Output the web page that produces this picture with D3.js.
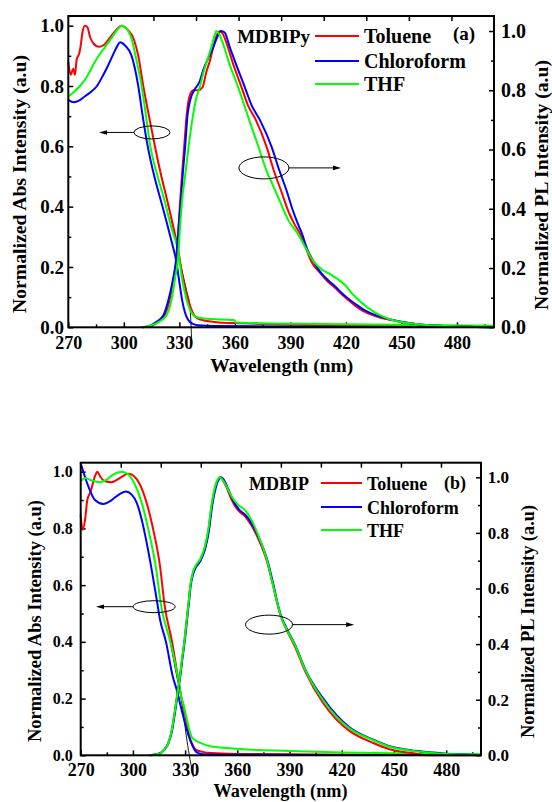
<!DOCTYPE html>
<html>
<head>
<meta charset="utf-8">
<script src="https://cdn.jsdelivr.net/npm/d3@7"></script>
<style>
  html, body { margin: 0; padding: 0; background: #fff; }
  svg { display: block; }
  text { font-family: "Liberation Serif", "Times New Roman", Times, Tinos, "Nimbus Roman", serif; font-weight: bold; fill: #000; }
</style>
</head>
<body>
<svg id="chart" width="552" height="802"></svg>
<script>
// ---------------- DATA ----------------
const seriesNames = ["Toluene", "Chloroform", "THF"];
const seriesColors = ["#ff0000", "#0000ff", "#00ff00"];
const wavelengthTicks = [270, 300, 330, 360, 390, 420, 450, 480];
const wavelengthMinorTicks = [285, 315, 345, 375, 405, 435, 465, 495];
const intensityTicks = [0, 0.2, 0.4, 0.6, 0.8, 1.0];
const intensityMinorTicks = [0.1, 0.3, 0.5, 0.7, 0.9];
const panelLabels = ["(a)", "(b)"];
const compoundNames = ["MDBIPy", "MDBIP"];

// Panel (a) – absorption (left axis), [wavelength nm, normalized value]
const absTolueneA = [[270,0.88],[271.3,0.837],[272.7,0.857],[273.6,0.837],[274.5,0.887],[276,0.91],[276.6,0.93],[277.7,0.98],[279,1.0],[280.3,0.995],[281.9,0.96],[283.7,0.94],[286.4,0.93],[289.2,0.936],[292.7,0.962],[296.3,0.988],[298.5,1.0],[301.8,0.988],[305.4,0.955],[307.8,0.9],[310.5,0.8],[313.6,0.7],[316.8,0.6],[320.3,0.5],[323.5,0.42],[326.5,0.34],[329.4,0.256],[332,0.16],[334.8,0.09],[336.8,0.055],[338.6,0.035],[342,0.025],[350,0.017],[360,0.014],[380,0.01],[420,0.006],[500,0.003]];
const absChloroformA = [[270,0.754],[273,0.746],[276,0.752],[279,0.766],[282.5,0.782],[285.5,0.8],[288.5,0.832],[291.5,0.868],[294.5,0.908],[296.5,0.933],[298,0.945],[300.5,0.935],[304.2,0.9],[307.8,0.8],[310.2,0.7],[312.9,0.6],[316.5,0.5],[320,0.42],[323.5,0.34],[326,0.28],[328.2,0.223],[330,0.15],[331.5,0.09],[333,0.05],[334.8,0.024],[337,0.012],[340,0.007],[350,0.004],[400,0.002],[500,0.001]];
const absTHFA = [[270,0.765],[273,0.78],[276.3,0.8],[280,0.83],[284.4,0.88],[287.5,0.91],[290.7,0.936],[294,0.965],[297,0.99],[298.8,1.0],[301.5,0.99],[304.5,0.95],[307,0.88],[309.6,0.8],[312,0.7],[314.3,0.6],[318.3,0.5],[322,0.42],[325.7,0.33],[329.2,0.256],[331.5,0.16],[334,0.09],[336,0.055],[339,0.035],[345,0.028],[359.5,0.024],[360.5,0.016],[380,0.013],[420,0.01],[500,0.005]];
// Panel (a) – photoluminescence (right axis)
const plTolueneA = [[310,0],[315,0.005],[319,0.02],[322,0.04],[325,0.1],[327,0.17],[328.5,0.23],[329.5,0.33],[330.5,0.43],[331.5,0.52],[332.5,0.6],[334,0.72],[335.5,0.78],[337.5,0.8],[340,0.8],[342.5,0.81],[344.5,0.86],[346.5,0.9],[348.5,0.95],[350.5,0.99],[352,1.0],[353.5,0.99],[356,0.95],[359,0.89],[363.6,0.81],[367,0.75],[371.3,0.7],[377.1,0.61],[381,0.53],[385,0.46],[389,0.39],[392,0.35],[395.1,0.317],[398.5,0.265],[401.3,0.222],[406.4,0.181],[410,0.155],[413.6,0.136],[418,0.11],[421.7,0.09],[425,0.073],[428.9,0.056],[435,0.04],[443,0.026],[450,0.018],[457.7,0.0115],[465,0.007],[475,0.004],[490,0.001],[500,0]];
const plChloroformA = [[310,0],[314,0.005],[318,0.02],[321.3,0.04],[324,0.09],[326.5,0.16],[328.2,0.226],[329.5,0.33],[330.8,0.43],[332,0.53],[333,0.6],[334.5,0.72],[336,0.77],[338,0.8],[341,0.83],[343,0.87],[345,0.9],[348,0.94],[350.5,0.98],[352.5,1.0],[354.5,0.995],[357,0.95],[360.5,0.89],[365.4,0.81],[369,0.75],[373.5,0.7],[379.8,0.61],[384,0.53],[388,0.46],[391,0.4],[394,0.35],[396.2,0.317],[399,0.265],[402.3,0.225],[406.9,0.181],[410.5,0.158],[414.5,0.136],[418,0.114],[422,0.093],[426,0.075],[430,0.058],[436,0.041],[443,0.028],[450,0.019],[457.7,0.0115],[465,0.007],[475,0.004],[490,0.001],[500,0]];
const plTHFA = [[310,0],[314,0.005],[318,0.015],[323,0.04],[326,0.1],[327.8,0.17],[329.2,0.226],[330.3,0.33],[331.5,0.43],[333.3,0.52],[335,0.61],[337,0.7],[339,0.77],[341,0.81],[343,0.86],[345,0.9],[347.5,0.95],[349,0.985],[349.9,1.0],[351.5,0.99],[354,0.95],[357,0.89],[361.8,0.81],[364.5,0.76],[367.7,0.7],[372.6,0.612],[377,0.53],[380.5,0.48],[384,0.43],[389,0.36],[393.9,0.317],[398.5,0.265],[402.8,0.22],[407,0.195],[411.8,0.178],[415,0.165],[418.8,0.147],[424.2,0.108],[431.4,0.068],[437,0.045],[443.3,0.028],[450,0.018],[457.7,0.0115],[465,0.007],[475,0.004],[490,0.001],[500,0]];
const traceA = [[318,0.56],[323,0.43],[327,0.32],[331,0.2],[334,0.12],[335.7,0.07],[336.6,-0.036]];

// Panel (b) – absorption (left axis)
const absTolueneB = [[270,0.848],[271.1,0.795],[272.5,0.83],[273.8,0.9],[275.7,0.93],[278.2,0.984],[279.6,1.0],[281.1,0.984],[284,0.966],[287.8,0.963],[292.6,0.978],[297.4,0.993],[300.3,0.986],[304.1,0.954],[307.9,0.89],[311.7,0.795],[315.6,0.666],[318.3,0.525],[322.5,0.4],[325.8,0.278],[327.8,0.207],[329.5,0.16],[331,0.11],[332.8,0.06],[334.5,0.035],[336,0.02],[340,0.012],[345,0.008],[360,0.005],[400,0.003],[500,0.001]];
const absChloroformB = [[270,1.03],[271.5,1.0],[274.4,0.948],[278.2,0.9],[283,0.886],[287.8,0.9],[292.6,0.922],[295.9,0.93],[299.3,0.919],[302.2,0.89],[305.1,0.83],[307.9,0.75],[310.8,0.654],[313.7,0.548],[315.6,0.478],[319,0.4],[322.9,0.278],[325.2,0.23],[328,0.16],[330.5,0.1],[332.5,0.06],[334.5,0.03],[336.7,0.01],[340,0.004],[360,0.002],[500,0.001]];
const absTHFB = [[270,0.966],[272.5,0.978],[276.3,0.969],[281.1,0.963],[284.9,0.972],[288.7,0.99],[293.6,1.0],[297.4,0.99],[301.2,0.954],[305.1,0.89],[308.9,0.795],[312.8,0.678],[316.5,0.518],[321.5,0.4],[325.8,0.278],[327.8,0.207],[329.8,0.16],[332,0.1],[334,0.062],[337.6,0.047],[342,0.036],[346,0.03],[352,0.027],[361.6,0.022],[375,0.018],[390,0.015],[420,0.01],[460,0.006],[500,0.004]];
// Panel (b) – photoluminescence (right axis)
const plTolueneB = [[309.8,0],[315.6,0.007],[318,0.02],[320.3,0.043],[322,0.08],[324.2,0.163],[325.5,0.22],[327,0.283],[328.3,0.35],[329.5,0.406],[330.9,0.487],[332,0.55],[333,0.61],[334.3,0.65],[335.9,0.675],[338.6,0.7],[341.4,0.745],[343.3,0.805],[345.3,0.9],[347.2,0.962],[349.1,0.995],[349.8,1.0],[351,0.995],[353.9,0.962],[356.8,0.918],[360.6,0.88],[364.4,0.86],[368.3,0.825],[372.1,0.778],[376.9,0.7],[380.7,0.606],[382.8,0.55],[385,0.5],[388,0.455],[392.8,0.395],[399.5,0.295],[409.1,0.19],[416.7,0.13],[424.4,0.088],[437.8,0.045],[447.4,0.022],[460,0.008],[471,0],[500,0]];
const plChloroformB = [[309.8,0],[315.6,0.007],[318,0.02],[320.3,0.043],[322.2,0.08],[324.4,0.163],[325.7,0.22],[327.2,0.283],[328.5,0.35],[329.7,0.406],[331.1,0.487],[332.2,0.55],[333.2,0.61],[334.5,0.65],[336.1,0.675],[338.8,0.7],[341.6,0.745],[343.6,0.805],[345.6,0.9],[347.6,0.962],[349.6,0.995],[350.6,1.0],[351.8,0.995],[354.5,0.962],[357.3,0.92],[361,0.884],[364.8,0.864],[368.6,0.83],[372.4,0.782],[377.2,0.703],[381,0.606],[383,0.55],[385.2,0.5],[388.2,0.458],[393,0.4],[399.7,0.3],[409.3,0.205],[416.9,0.145],[424.6,0.1],[437.8,0.057],[447.4,0.033],[462.7,0.016],[480,0.006],[500,0.001]];
const plTHFB = [[309.8,0],[315.6,0.007],[318,0.02],[320.3,0.043],[322,0.08],[324.2,0.163],[325.5,0.22],[327,0.283],[328.3,0.35],[329.5,0.406],[330.9,0.487],[332,0.55],[333,0.61],[334.3,0.655],[335.9,0.68],[338.6,0.705],[341.4,0.752],[343.3,0.812],[345.3,0.906],[347.2,0.966],[349.1,0.996],[349.7,1.0],[351,0.995],[353.9,0.966],[356.8,0.93],[360.6,0.9],[364.4,0.882],[368.3,0.845],[372.1,0.79],[376.9,0.705],[380.7,0.606],[382.8,0.552],[385,0.5],[388,0.457],[392.8,0.4],[399.5,0.3],[409.1,0.2],[416.7,0.14],[424.4,0.097],[437.8,0.055],[447.4,0.031],[462.7,0.015],[480,0.005],[500,0.001]];
const traceB = [[320.5,0.43],[324.5,0.3],[328.5,0.17],[331,0.054],[334.7,-0.076]];

// Annotation ellipses (centre in data units, radii in px) with arrows pointing to their axis
const annotationsA = [
  {cx: 315.2, cy: 0.646, axis: "left", rx: 18, ry: 6.5, tip: 286.6},
  {cx: 375.7, cy: 0.538, axis: "right", rx: 25, ry: 11, tip: 417.3}
];
const annotationsB = [
  {cx: 312.2, cy: 0.524, axis: "left", rx: 21, ry: 6, tip: 278.8},
  {cx: 378.2, cy: 0.47, axis: "right", rx: 23.5, ry: 9.5, tip: 427.1}
];

// ---------------- LAYOUT ----------------
const FONT = '"Liberation Serif", "Times New Roman", Times, Tinos, "Nimbus Roman", serif';
const panels = [
  {
    L: 68.3, R: 494, T: 16, B: 327.3, yLTop: 1.032, yRTop: 1.0507,
    abs: [absTolueneA, absChloroformA, absTHFA], pl: [plTolueneA, plChloroformA, plTHFA], trace: traceA,
    ann: annotationsA, label: panelLabels[0], name: compoundNames[0],
    fsYL: 19, fsYR: 20, fsX: 18, padYL: 4.3, padYR: 7, padX: 9,
    titleL: {x: 19, y: 184, len: 258, fs: 19}, titleR: {x: 542, y: 185, len: 250, fs: 18},
    titleX: {x: 281.7, y: 372, len: 143, fs: 19},
    legend: {x1: 315, x2: 359, tx: 364, ys: [36, 61, 84], fs: 20},
    nameText: {x: 310, y: 43.3, fs: 19}, labelText: {x: 453, y: 40, fs: 19}
  },
  {
    L: 80.7, R: 481, T: 462.7, B: 755.3, yLTop: 1.0317, yRTop: 1.0525,
    abs: [absTolueneB, absChloroformB, absTHFB], pl: [plTolueneB, plChloroformB, plTHFB], trace: traceB,
    ann: annotationsB, label: panelLabels[1], name: compoundNames[1],
    fsYL: 16, fsYR: 17, fsX: 18, padYL: 8, padYR: 6.7, padX: 8,
    titleL: {x: 35, y: 621, len: 242, fs: 18}, titleR: {x: 527.5, y: 621.5, len: 233, fs: 18},
    titleX: {x: 280.5, y: 797, len: 134, fs: 18},
    legend: {x1: 321, x2: 362, tx: 367, ys: [483, 507, 530], fs: 18},
    nameText: {x: 309, y: 490, fs: 18}, labelText: {x: 444, y: 489, fs: 18}
  }
];

const svg = d3.select("#chart");

function styleAxis(g, fs) {
  g.select(".domain").remove();
  g.selectAll(".tick line").attr("stroke", "#000").attr("stroke-width", 1.5);
  g.selectAll(".tick text").style("font-family", FONT)
    .style("font-weight", "bold").style("font-size", fs + "px").attr("fill", "#000");
}

panels.forEach(p => {
  const g = svg.append("g");
  const x = d3.scaleLinear().domain([270, 500]).range([p.L, p.R]);
  const yL = d3.scaleLinear().domain([0, p.yLTop]).range([p.B, p.T]);
  const yR = d3.scaleLinear().domain([0, p.yRTop]).range([p.B, p.T]);
  const topScale = d3.scaleLinear().domain([0, 10]).range([p.L, p.R]);
  const fmt = d3.format(".1f");

  g.append("g").attr("transform", `translate(0,${p.B})`)
    .call(d3.axisBottom(x).tickValues(wavelengthTicks).tickSizeInner(-5).tickSizeOuter(0).tickPadding(p.padX))
    .call(a => styleAxis(a, p.fsX));
  g.append("g").attr("transform", `translate(0,${p.B})`)
    .call(d3.axisBottom(x).tickValues(wavelengthMinorTicks).tickFormat("").tickSizeInner(-3).tickSizeOuter(0))
    .call(a => styleAxis(a, p.fsX));
  g.append("g").attr("transform", `translate(0,${p.T})`)
    .call(d3.axisTop(topScale).tickValues(d3.range(1, 10)).tickFormat("").tickSizeInner(-5).tickSizeOuter(0))
    .call(a => styleAxis(a, p.fsX));
  g.append("g").attr("transform", `translate(${p.L},0)`)
    .call(d3.axisLeft(yL).tickValues(intensityTicks).tickFormat(fmt).tickSizeInner(-5).tickSizeOuter(0).tickPadding(p.padYL))
    .call(a => styleAxis(a, p.fsYL));
  g.append("g").attr("transform", `translate(${p.L},0)`)
    .call(d3.axisLeft(yL).tickValues(intensityMinorTicks).tickFormat("").tickSizeInner(-3).tickSizeOuter(0))
    .call(a => styleAxis(a, p.fsYL));
  g.append("g").attr("transform", `translate(${p.R},0)`)
    .call(d3.axisRight(yR).tickValues(intensityTicks).tickFormat(fmt).tickSizeInner(-5).tickSizeOuter(0).tickPadding(p.padYR))
    .call(a => styleAxis(a, p.fsYR));
  g.append("g").attr("transform", `translate(${p.R},0)`)
    .call(d3.axisRight(yR).tickValues(intensityMinorTicks).tickFormat("").tickSizeInner(-3).tickSizeOuter(0))
    .call(a => styleAxis(a, p.fsYR));

  const lineL = d3.line().x(d => x(d[0])).y(d => yL(d[1])).curve(d3.curveMonotoneX);
  const lineR = d3.line().x(d => x(d[0])).y(d => yR(d[1])).curve(d3.curveMonotoneX);
  g.append("path").datum(p.trace).attr("d", lineL).attr("fill", "none")
    .attr("stroke", "#000").attr("stroke-width", 0.9);

  p.abs.forEach((s, i) => {
    g.append("path").datum(s).attr("d", lineL).attr("fill", "none")
      .attr("stroke", seriesColors[i]).attr("stroke-width", 2).attr("stroke-linejoin", "round");
  });
  p.pl.forEach((s, i) => {
    g.append("path").datum(s).attr("d", lineR).attr("fill", "none")
      .attr("stroke", seriesColors[i]).attr("stroke-width", 2).attr("stroke-linejoin", "round");
  });

  g.append("rect").attr("x", p.L).attr("y", p.T).attr("width", p.R - p.L).attr("height", p.B - p.T)
    .attr("fill", "none").attr("stroke", "#000").attr("stroke-width", 2);

  p.ann.forEach(a => {
    const ys = a.axis === "left" ? yL : yR;
    const cx = x(a.cx), cy = ys(a.cy), tx = x(a.tip);
    const dir = tx < cx ? -1 : 1;
    const start = cx + dir * a.rx;
    g.append("ellipse").attr("cx", cx).attr("cy", cy).attr("rx", a.rx).attr("ry", a.ry)
      .attr("fill", "none").attr("stroke", "#000").attr("stroke-width", 1);
    g.append("line").attr("x1", start).attr("y1", cy).attr("x2", tx - dir * 6).attr("y2", cy)
      .attr("stroke", "#000").attr("stroke-width", 1);
    g.append("path").attr("d", `M${tx},${cy}L${tx - dir * 8},${cy - 2.3}L${tx - dir * 8},${cy + 2.3}Z`)
      .attr("fill", "#000");
  });

  seriesNames.forEach((n, i) => {
    const ly = p.legend.ys[i];
    g.append("line").attr("x1", p.legend.x1).attr("x2", p.legend.x2).attr("y1", ly).attr("y2", ly)
      .attr("stroke", seriesColors[i]).attr("stroke-width", 2);
    g.append("text").attr("x", p.legend.tx).attr("y", ly + 7).style("font-size", p.legend.fs + "px").text(n);
  });
  g.append("text").attr("x", p.nameText.x).attr("y", p.nameText.y).attr("text-anchor", "end")
    .style("font-size", p.nameText.fs + "px").text(p.name);
  g.append("text").attr("x", p.labelText.x).attr("y", p.labelText.y)
    .style("font-size", p.labelText.fs + "px").text(p.label);

  g.append("text").attr("transform", `translate(${p.titleL.x},${p.titleL.y}) rotate(-90)`)
    .attr("text-anchor", "middle").attr("dominant-baseline", "central")
    .attr("textLength", p.titleL.len).attr("lengthAdjust", "spacingAndGlyphs")
    .style("font-size", p.titleL.fs + "px").text("Normalized Abs Intensity (a.u)");
  g.append("text").attr("transform", `translate(${p.titleR.x},${p.titleR.y}) rotate(-90)`)
    .attr("text-anchor", "middle").attr("dominant-baseline", "central")
    .attr("textLength", p.titleR.len).attr("lengthAdjust", "spacingAndGlyphs")
    .style("font-size", p.titleR.fs + "px").text("Normalized PL Intensity (a.u)");
  g.append("text").attr("x", p.titleX.x).attr("y", p.titleX.y).attr("text-anchor", "middle")
    .attr("textLength", p.titleX.len).attr("lengthAdjust", "spacingAndGlyphs")
    .style("font-size", p.titleX.fs + "px").text("Wavelength (nm)");
});
</script>
</body>
</html>
